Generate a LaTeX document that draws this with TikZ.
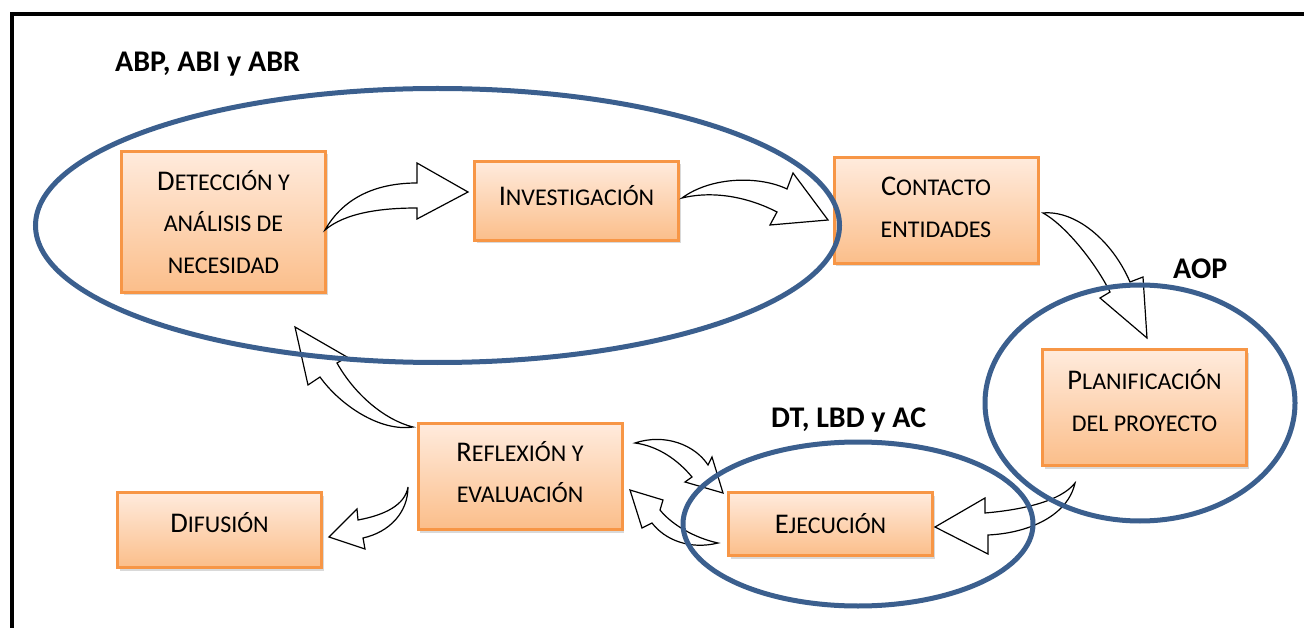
\documentclass[tikz,border=0pt]{standalone}
\usepackage{fontspec}
\setmainfont{Carlito}
\usetikzlibrary{shadows,shapes.geometric}
\definecolor{boxedge}{HTML}{F79646}
\definecolor{boxtop}{HTML}{FFEBDD}
\definecolor{boxbot}{HTML}{FBBE8A}
\definecolor{ellblue}{HTML}{3B5F8E}
\newcommand\SCx[2]{{\fontsize{28.5}{41}\selectfont #1}#2}
\tikzset{
 pbox/.style={draw=boxedge, line width=3pt, top color=boxtop, bottom color=boxbot,
   drop shadow={opacity=0.3, shadow xshift=2pt, shadow yshift=-3pt},
   align=center, inner sep=0pt, minimum width=204pt, font=\fontsize{24}{41.5}\selectfont},
 barrow/.style={draw=black, fill=white, line width=1.2pt, line join=miter},
 grp/.style={draw=ellblue, line width=5pt, ellipse, inner sep=0pt},
 glabel/.style={font=\fontsize{30}{34}\selectfont\bfseries, anchor=base west, inner sep=0pt},
}
\begin{document}
\begin{tikzpicture}[x=1pt,y=-1pt]
\useasboundingbox (0,0) rectangle (1304,628);
\coordinate (fa) at (12,628);
\coordinate (fb) at (12,14);
\coordinate (fc) at (1304,14);
\draw[line width=4pt] (fa) -- (fb) -- (fc);

% boxes
\node[pbox, minimum height=141pt] (det) at (223.5,222) {\SCx{D}{ETECCIÓN Y}\\\SCx{}{ANÁLISIS DE}\\\SCx{}{NECESIDAD}};
\node[pbox, minimum height=79pt, text depth=12pt] (inv) at (576.5,201) {\SCx{I}{NVESTIGACIÓN}};
\node[pbox, minimum height=106pt, text depth=6pt] (con) at (936,210.5) {\SCx{C}{ONTACTO}\\\SCx{}{ENTIDADES}};
\node[pbox, minimum height=116pt, text depth=14pt] (pla) at (1144.5,407.5) {\SCx{P}{LANIFICACIÓN}\\\SCx{}{DEL PROYECTO}};
\node[pbox, minimum height=106pt, text depth=9pt] (ref) at (520,476.5) {\SCx{R}{EFLEXIÓN Y}\\\SCx{}{EVALUACIÓN}};
\node[pbox, minimum height=63pt, text depth=2pt] (eje) at (830.5,524) {\SCx{E}{JECUCIÓN}};
\node[pbox, minimum height=75pt, text depth=16pt] (dif) at (219.5,530) {\SCx{D}{IFUSIÓN}};

% curved block arrows
\draw[barrow] (325,230) .. controls (345,195) and (380,183) .. (417,183) -- (417,163) -- (468,192) -- (417,219) -- (417,208) .. controls (380,208) and (345,213) .. (325,230) -- cycle;
\draw[barrow] (682,198) .. controls (712,176) and (760,176) .. (787,189) -- (793,173) -- (828,220) -- (770,225) -- (777,212) .. controls (750,198) and (715,190) .. (682,198) -- cycle;
\draw[barrow] (1043,213) .. controls (1065,225) and (1095,262) .. (1110,292) -- (1100,298) -- (1147,338) -- (1143,277) -- (1130,282) .. controls (1112,240) and (1075,210) .. (1043,213) -- cycle;
\draw[barrow] (1075,483) .. controls (1060,502) and (1020,510) .. (985,513) -- (985,498) -- (935,527) -- (988,554) -- (988,535) .. controls (1030,533) and (1068,515) .. (1075,483) -- cycle;
\draw[barrow] (635,443) .. controls (665,433) and (695,445) .. (708,465) -- (712,457) -- (723,493) -- (685,482) -- (692,477) .. controls (678,460) and (658,446) .. (635,443) -- cycle;
\draw[barrow] (718,543) .. controls (690,550) and (665,540) .. (652,523) -- (642,528) -- (630,490) -- (663,500) -- (660,510) .. controls (672,525) and (695,538) .. (718,543) -- cycle;
\draw[barrow] (413,427) .. controls (380,432) and (340,405) .. (320,377) -- (308,385) -- (295,327) -- (347,357) -- (337,363) .. controls (355,395) and (385,420) .. (413,427) -- cycle;
\draw[barrow] (408,487) .. controls (405,505) and (385,515) .. (358,520) -- (357,509) -- (329,537) -- (365,549) -- (363,538) .. controls (390,532) and (408,512) .. (408,487) -- cycle;

% group ellipses
\node[grp, minimum width=804pt, minimum height=274pt] (g1) at (437.5,225.5) {};
\node[grp, minimum width=310pt, minimum height=236pt] (g2) at (1140,403) {};
\node[grp, minimum width=350pt, minimum height=164pt] (g3) at (858,524) {};

% labels
\node[glabel] (l1) at (115,72) {ABP, ABI y ABR};
\node[glabel] (l2) at (1173,279) {AOP};
\node[glabel] (l3) at (771,427) {DT, LBD y AC};
\end{tikzpicture}
\end{document}
